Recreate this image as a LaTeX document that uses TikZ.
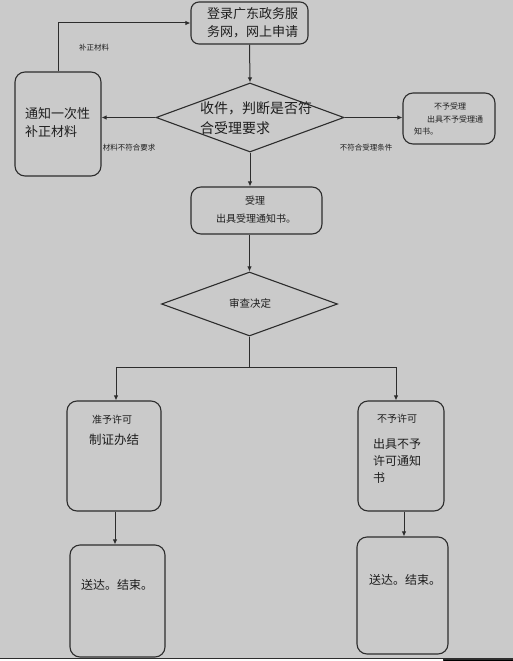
\documentclass[tikz,border=0pt]{standalone}
\usepackage{fontspec}
\setmainfont{Noto Sans CJK SC}
\usetikzlibrary{shapes.geometric,arrows.meta,calc}
\definecolor{bg}{RGB}{202,202,202}
\definecolor{ln}{RGB}{45,45,45}
\definecolor{tx}{RGB}{30,30,30}
\tikzset{
  x=1pt,y=-1pt,
  box/.style={draw=ln,line width=1.1pt,rounded corners=10pt,inner sep=0,minimum width=#1},
  dia/.style={draw=ln,line width=1.1pt,diamond,inner sep=0,aspect=2.7},
  arr/.style={draw=ln,line width=1pt,-{Latex[length=5pt,width=4.5pt]}},
  ln/.style={draw=ln,line width=1pt},
  txt/.style={text=tx,inner sep=0,font=\fontsize{#1}{#1}\selectfont},
}
\begin{document}
\begin{tikzpicture}
\useasboundingbox (0,0) rectangle (513,661);
\fill[bg] (0,0) rectangle (513,661);
\fill[white] (0,659) rectangle (513,661);
\fill[ln] (443,659) rectangle (513,661);
\draw[ln,line width=0.8pt] (0,658.6) -- (513,658.6);

% boxes
\node[box=117pt,minimum height=42pt,rounded corners=8pt] (top) at (249.5,23) {};
\node[dia,minimum width=188pt,minimum height=69pt] (d1) at (250,117.5) {};
\node[box=86pt,minimum height=104pt] (left) at (58,124) {};
\node[box=92pt,minimum height=51pt] (right) at (449,118.5) {};
\node[box=131pt,minimum height=47pt] (acc) at (256.5,210.5) {};
\node[dia,minimum width=176pt,minimum height=64pt] (d2) at (249.5,304) {};
\node[box=94pt,minimum height=110pt] (L1) at (114,456) {};
\node[box=86pt,minimum height=110pt] (R1) at (401,456) {};
\node[box=95pt,minimum height=112pt] (L2) at (117.5,601) {};
\node[box=91pt,minimum height=117pt] (R2) at (402.5,595.5) {};

% texts
\node[txt=13,align=left,anchor=west] (ttop) at (207,23) {登录广东政务服\\[5pt]务网，网上申请};
\node[txt=14,align=left,anchor=west] (td1) at (200,118) {收件，判断是否符\\[6pt]合受理要求};
\node[txt=13,align=left,anchor=west] (tleft) at (25,123) {通知一次性\\[5pt]补正材料};
\node[txt=8,anchor=center] (tr1) at (450,106) {不予受理};
\node[txt=8,anchor=center] (tr2) at (455,119) {出具不予受理通};
\node[txt=8,anchor=west] (tr3) at (414,131) {知书。};
\node[txt=10,anchor=center] (tacc1) at (255,201) {受理};
\node[txt=10,anchor=center] (tacc2) at (256,219) {出具受理通知书。};
\node[txt=10.5,anchor=center] (td2) at (250,303) {审查决定};
\node[txt=10,anchor=center] (tL1a) at (112,420) {准予许可};
\node[txt=12.5,anchor=center] (tL1b) at (114,440) {制证办结};
\node[txt=10,anchor=center] (tR1a) at (397,419) {不予许可};
\node[txt=12,align=left,anchor=north west] (tR1b) at (373,438) {出具不予\\[5pt]许可通知\\[5pt]书};
\node[txt=12,anchor=center] (tL2) at (117,585) {送达。结束。};
\node[txt=12,anchor=center] (tR2) at (405,580) {送达。结束。};

% edge labels
\node[txt=7.5,anchor=center] (lb1) at (94,48) {补正材料};
\node[txt=7.5,anchor=center] (lb2) at (129,148) {材料不符合要求};
\node[txt=7.5,anchor=center] (lb3) at (366,148) {不符合受理条件};

% connectors
\draw[arr] (top.south) -- (d1.north);
\draw[arr] (d1.west) -- (d1.west -| left.east);
\draw[arr] (d1.east) -- (d1.east -| right.west);
\draw[arr] (left.north) |- (top.west);
\draw[arr] (d1.south) -- (d1.south |- acc.north);
\draw[arr] (acc.south -| d2.north) -- (d2.north);
\coordinate (split) at ($(d2.south)+(0,31)$);
\draw[ln] (d2.south) -- (split);
\draw[arr] (split) -| ([xshift=2pt]L1.north);
\draw[arr] (split) -| ([xshift=-5pt]R1.north);
\draw[arr] ([xshift=1pt]L1.south) -- ([xshift=1pt]L1.south |- L2.north);
\draw[arr] ([xshift=3pt]R1.south) -- ([xshift=3pt]R1.south |- R2.north);
\end{tikzpicture}
\end{document}
